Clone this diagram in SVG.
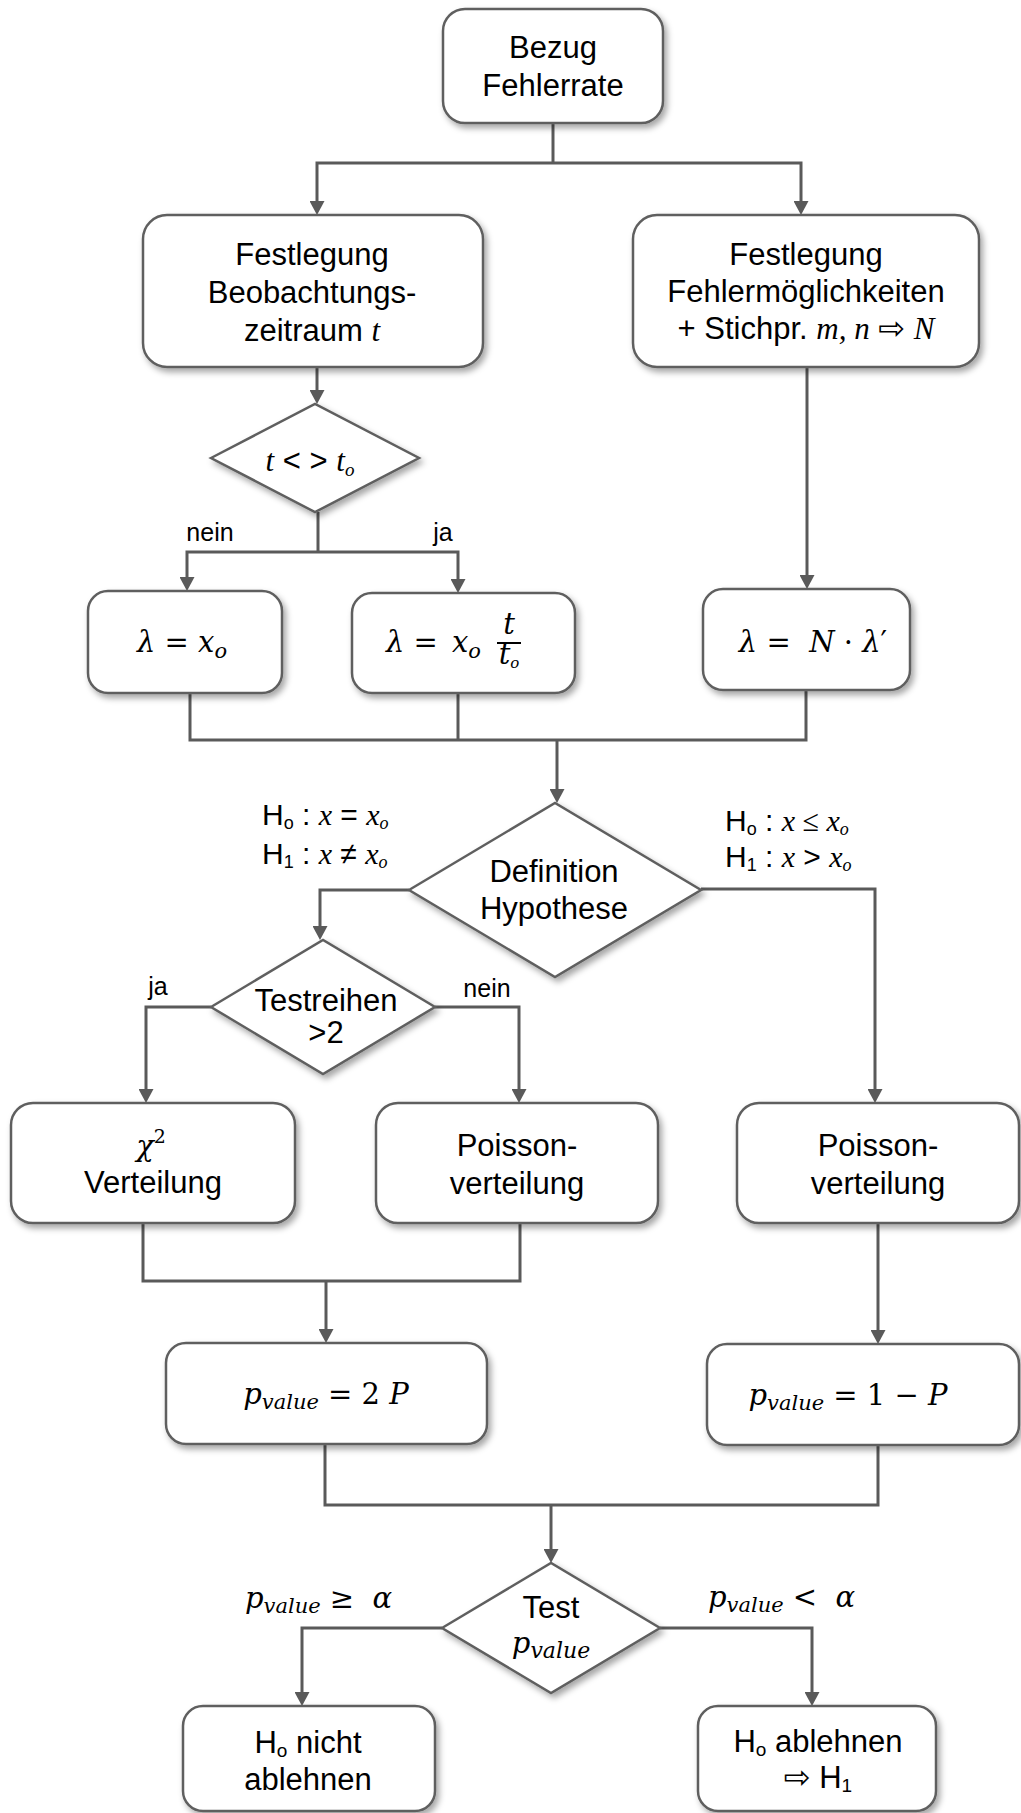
<svg xmlns="http://www.w3.org/2000/svg" width="1021" height="1813" viewBox="0 0 1021 1813">
<defs>
<filter id="sh" x="-10%" y="-10%" width="125%" height="135%">
<feDropShadow dx="3" dy="4" stdDeviation="3" flood-color="#000" flood-opacity="0.35"/>
</filter>
<marker id="ah" viewBox="0 0 14 15" refX="8" refY="7.5" markerWidth="14" markerHeight="15" markerUnits="userSpaceOnUse" orient="auto-start-reverse">
<path d="M0,0 L14,7.5 L0,15 z" fill="#5a5a5a"/>
</marker>
<style>
.box{fill:#fff;stroke:#5f5f5f;stroke-width:2.5;filter:url(#sh);}
.c{fill:none;stroke:#5a5a5a;stroke-width:3;}
.a{marker-end:url(#ah);}
.aa{marker-start:url(#ah);marker-end:url(#ah);}
.t{font-family:"Liberation Sans",Arial,sans-serif;font-size:31px;fill:#000;text-anchor:middle;}
.l{font-family:"Liberation Sans",Arial,sans-serif;font-size:25px;fill:#000;}
.h{font-family:"Liberation Sans",Arial,sans-serif;font-size:30px;fill:#000;}
.m{font-family:"DejaVu Serif",serif;font-size:29px;fill:#000;}
.i{font-family:"Liberation Serif","Times New Roman",serif;font-style:italic;}
.mi{font-style:italic;}
.ar{font-family:"DejaVu Sans",sans-serif;}
</style>
</defs>
<rect width="1021" height="1813" fill="#fff"/>
<g id="connectors">
<path class="c" d="M553,123 V163"/>
<path class="c aa" d="M317,209 V163 H801 V209"/>
<path class="c a" d="M317,367 V398"/>
<path class="c" d="M318,512 V552"/>
<path class="c aa" d="M187,585 V552 H458 V587"/>
<path class="c a" d="M807,367 V583"/>
<path class="c" d="M190,693 V740 H806 V690"/>
<path class="c" d="M458,693 V740"/>
<path class="c a" d="M557,740 V797"/>
<path class="c a" d="M409,890 H320 V934"/>
<path class="c a" d="M701,889 H875 V1097"/>
<path class="c a" d="M211,1007 H146 V1097"/>
<path class="c a" d="M435,1007 H519 V1097"/>
<path class="c" d="M143,1222 V1281 H520 V1222"/>
<path class="c a" d="M326,1281 V1337"/>
<path class="c a" d="M878,1223 V1338"/>
<path class="c" d="M325,1444 V1505 H878 V1445"/>
<path class="c a" d="M551,1505 V1557"/>
<path class="c a" d="M442,1628 H302 V1700"/>
<path class="c a" d="M660,1628 H812 V1700"/>
</g>
<g id="labels">
<text class="l" x="210" y="541" text-anchor="middle">nein</text>
<text class="l" x="443" y="541" text-anchor="middle">ja</text>
<text class="l" x="158" y="995" text-anchor="middle">ja</text>
<text class="l" x="487" y="997" text-anchor="middle">nein</text>
<text class="h" x="262" y="825">H<tspan font-size="18" dy="4">o</tspan><tspan dy="-4"> : </tspan><tspan class="i">x</tspan> = <tspan class="i">x</tspan><tspan class="i" font-size="18" dy="4">o</tspan></text>
<text class="h" x="262" y="864">H<tspan font-size="18" dy="4">1</tspan><tspan dy="-4"> : </tspan><tspan class="i">x</tspan> ≠ <tspan class="i">x</tspan><tspan class="i" font-size="18" dy="4">o</tspan></text>
<text class="h" x="725" y="831">H<tspan font-size="18" dy="4">o</tspan><tspan dy="-4"> : </tspan><tspan class="i">x</tspan><tspan class="i" font-style="normal"> ≤ </tspan><tspan class="i">x</tspan><tspan class="i" font-size="18" dy="4">o</tspan></text>
<text class="h" x="725" y="867">H<tspan font-size="18" dy="4">1</tspan><tspan dy="-4"> : </tspan><tspan class="i">x</tspan> &gt; <tspan class="i">x</tspan><tspan class="i" font-size="18" dy="4">o</tspan></text>
<text class="m" x="245" y="1608"><tspan class="mi">p</tspan><tspan class="mi" font-size="21" dy="5">value</tspan><tspan dy="-5"> ≥ &#160;</tspan><tspan class="mi">α</tspan></text>
<text class="m" x="708" y="1607"><tspan class="mi">p</tspan><tspan class="mi" font-size="21" dy="5">value</tspan><tspan dy="-5"> &lt; &#160;</tspan><tspan class="mi">α</tspan></text>
</g>
<g id="n1">
<rect class="box" x="443" y="9" width="220" height="114" rx="22"/>
<text class="t" x="553" y="58">Bezug</text>
<text class="t" x="553" y="96">Fehlerrate</text>
</g>
<g id="n2">
<rect class="box" x="143" y="215" width="340" height="152" rx="24"/>
<text class="t" x="312" y="265">Festlegung</text>
<text class="t" x="312" y="303">Beobachtungs-</text>
<text class="t" x="312" y="341">zeitraum <tspan class="i">t</tspan></text>
</g>
<g id="n3">
<rect class="box" x="633" y="215" width="346" height="152" rx="24"/>
<text class="t" x="806" y="265">Festlegung</text>
<text class="t" x="806" y="302">Fehlermöglichkeiten</text>
<text class="t" x="806" y="339">+ Stichpr. <tspan class="i">m, n</tspan> <tspan class="ar" font-size="32">⇨</tspan> <tspan class="i">N</tspan></text>
</g>
<g id="n4">
<polygon class="box" points="211,458 315,404 419,458 315,512"/>
<text class="t" x="310" y="471"><tspan class="i">t</tspan> &lt; &gt; <tspan class="i">t</tspan><tspan class="i" font-size="19" dy="5">o</tspan></text>
</g>
<g id="n5">
<rect class="box" x="88" y="591" width="194" height="102" rx="20"/>
<text class="m" x="182" y="652" text-anchor="middle"><tspan class="mi">λ</tspan> = <tspan class="mi">x</tspan><tspan class="mi" font-size="21" dy="6">o</tspan></text>
</g>
<g id="n6">
<rect class="box" x="352" y="593" width="223" height="100" rx="20"/>
<text class="m" x="386" y="652"><tspan class="mi">λ</tspan> =</text>
<text class="m" x="452" y="652"><tspan class="mi">x</tspan><tspan class="mi" font-size="21" dy="6">o</tspan></text>
<text class="m" x="509" y="634" font-size="19" text-anchor="middle" font-style="italic">t</text>
<line x1="497" y1="643" x2="521" y2="643" stroke="#000" stroke-width="2"/>
<text class="m" x="509" y="664" font-size="19" text-anchor="middle" font-style="italic">t<tspan font-size="15" dy="4">o</tspan></text>
</g>
<g id="n7">
<rect class="box" x="703" y="589" width="207" height="101" rx="20"/>
<text class="m" x="813" y="652" text-anchor="middle"><tspan class="mi">λ</tspan> = &#160;<tspan class="mi">N</tspan> · <tspan class="mi">λ</tspan>′</text>
</g>
<g id="n8">
<polygon class="box" points="409,890 555,803 701,890 555,977"/>
<text class="t" x="554" y="882">Definition</text>
<text class="t" x="554" y="919">Hypothese</text>
</g>
<g id="n9">
<polygon class="box" points="211,1007 323,940 435,1007 323,1074"/>
<text class="t" x="326" y="1011" font-size="28">Testreihen</text>
<text class="t" x="326" y="1043" font-size="28">&gt;2</text>
</g>
<g id="n10">
<rect class="box" x="11" y="1103" width="284" height="120" rx="22"/>
<text class="m" x="151" y="1156" text-anchor="middle"><tspan class="mi">χ</tspan><tspan font-size="19" dy="-13">2</tspan></text>
<text class="t" x="153" y="1193">Verteilung</text>
</g>
<g id="n11">
<rect class="box" x="376" y="1103" width="282" height="120" rx="22"/>
<text class="t" x="517" y="1156">Poisson-</text>
<text class="t" x="517" y="1194">verteilung</text>
</g>
<g id="n12">
<rect class="box" x="737" y="1103" width="282" height="120" rx="22"/>
<text class="t" x="878" y="1156">Poisson-</text>
<text class="t" x="878" y="1194">verteilung</text>
</g>
<g id="n13">
<rect class="box" x="166" y="1343" width="321" height="101" rx="20"/>
<text class="m" x="326" y="1404" text-anchor="middle"><tspan class="mi">p</tspan><tspan class="mi" font-size="21" dy="5">value</tspan><tspan dy="-5"> = 2 </tspan><tspan class="mi">P</tspan></text>
</g>
<g id="n14">
<rect class="box" x="707" y="1344" width="312" height="101" rx="20"/>
<text class="m" x="848" y="1405" text-anchor="middle"><tspan class="mi">p</tspan><tspan class="mi" font-size="21" dy="5">value</tspan><tspan dy="-5"> = 1 − </tspan><tspan class="mi">P</tspan></text>
</g>
<g id="n15">
<polygon class="box" points="442,1628 551,1563 660,1628 551,1693"/>
<text class="t" x="551" y="1618">Test</text>
<text class="m" x="551" y="1653" text-anchor="middle" font-size="30"><tspan class="mi">p</tspan><tspan class="mi" font-size="22" dy="5">value</tspan></text>
</g>
<g id="n16">
<rect class="box" x="183" y="1706" width="252" height="105" rx="20"/>
<text class="t" x="308" y="1753">H<tspan font-size="19" dy="4">o</tspan><tspan dy="-4"> nicht</tspan></text>
<text class="t" x="308" y="1790">ablehnen</text>
</g>
<g id="n17">
<rect class="box" x="698" y="1706" width="238" height="105" rx="20"/>
<text class="t" x="818" y="1752">H<tspan font-size="19" dy="4">o</tspan><tspan dy="-4"> ablehnen</tspan></text>
<text class="t" x="818" y="1788"><tspan class="ar" font-size="32">⇨</tspan> H<tspan font-size="19" dy="4">1</tspan></text>
</g>
</svg>
